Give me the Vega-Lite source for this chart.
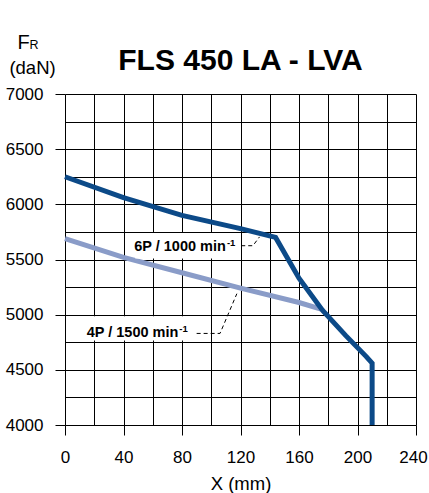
{
  "$schema": "https://vega.github.io/schema/vega-lite/v6.json",
  "width": 351,
  "height": 331,
  "autosize": {"type": "none"},
  "padding": {"left": 65, "top": 94, "right": 13, "bottom": 68},
  "background": "white",
  "config": {"view": {"stroke": null}, "font": "Liberation Sans"},
  "datasets": {
    "light": [
      {"x": 0, "y": 5690}, {"x": 40, "y": 5520}, {"x": 80, "y": 5380}, {"x": 120, "y": 5240}, {"x": 160, "y": 5110}, {"x": 175, "y": 5050}
    ],
    "dark": [
      {"x": 0, "y": 6250}, {"x": 40, "y": 6060}, {"x": 80, "y": 5900}, {"x": 120, "y": 5780}, {"x": 144, "y": 5700},
      {"x": 160, "y": 5330}, {"x": 176, "y": 5040}, {"x": 192, "y": 4810}, {"x": 206, "y": 4620}, {"x": 210, "y": 4560}, {"x": 210, "y": 4000}
    ],
    "boxes": [
      {"x": 48, "x2": 118, "y": 5510, "y2": 5740},
      {"x": 14, "x2": 87, "y": 4765, "y2": 4985}
    ],
    "leaders": [
      {"g": "6P", "x": 120.5, "y": 5625}, {"g": "6P", "x": 128.5, "y": 5625}, {"g": "6P", "x": 133, "y": 5705},
      {"g": "4P", "x": 90, "y": 4830}, {"g": "4P", "x": 106, "y": 4830}, {"g": "4P", "x": 117.5, "y": 5190}
    ],
    "labels": [
      {"label": "6P / 1000 min", "sup": "-1", "x": 110, "y": 5575},
      {"label": "4P / 1500 min", "sup": "-1", "x": 77.5, "y": 4800}
    ],
    "title": [
      {"t": "FLS 450 LA - LVA", "x": 120, "y": 7217}
    ],
    "ytitle": [
      {"t": "F", "x": -32.5, "y": 7410, "s": 20},
      {"t": "R", "x": -24.3, "y": 7410, "s": 12.5},
      {"t": "(daN)", "x": -38, "y": 7185, "s": 18.5}
    ]
  },
  "encoding": {
    "x": {
      "field": "x", "type": "quantitative",
      "scale": {"domain": [0, 240], "nice": false, "zero": false},
      "axis": {
        "values": [0, 20, 40, 60, 80, 100, 120, 140, 160, 180, 200, 220, 240],
        "grid": true, "gridColor": "#000", "gridWidth": 1, "gridOpacity": 1,
        "domain": false, "ticks": true, "tickSize": 10, "tickColor": "#000", "tickWidth": 1,
        "tickOpacity": {"condition": {"test": "datum.value % 40 === 0", "value": 1}, "value": 0},
        "labelExpr": "datum.value % 40 === 0 ? datum.label : ''",
        "labelOffset": {"condition": {"test": "datum.value === 240", "value": -3}, "value": 0},
        "labelFontSize": 17, "labelColor": "#000", "labelPadding": 14, "labelFont": "Liberation Sans",
        "labelOverlap": false, "labelFlush": false,
        "title": "X (mm)", "titleFontSize": 18.5, "titleFontWeight": "normal", "titleColor": "#000",
        "titleFont": "Liberation Sans", "titleBaseline": "alphabetic", "titleY": 64
      }
    },
    "y": {
      "field": "y", "type": "quantitative",
      "scale": {"domain": [4000, 7000], "nice": false, "zero": false},
      "axis": {
        "values": [4000, 4250, 4500, 4750, 5000, 5250, 5500, 5750, 6000, 6250, 6500, 6750, 7000],
        "grid": true, "gridColor": "#000", "gridWidth": 1, "gridOpacity": 1,
        "domain": false, "ticks": true, "tickSize": 10, "tickColor": "#000", "tickWidth": 1,
        "tickOpacity": {"condition": {"test": "datum.value % 500 === 0", "value": 1}, "value": 0},
        "labelExpr": "datum.value % 500 === 0 ? datum.label : ''",
        "labelFontSize": 17, "labelColor": "#000", "labelPadding": 12, "labelFont": "Liberation Sans",
        "labelOverlap": false, "labelFlush": false, "format": "d",
        "title": null
      }
    }
  },
  "layer": [
    {"data": {"name": "light"}, "mark": {"type": "line", "color": "#8A9CC8", "strokeWidth": 5}, "encoding": {"order": {"value": null}}},
    {"data": {"name": "dark"}, "mark": {"type": "line", "color": "#0C4A88", "strokeWidth": 5, "strokeJoin": "miter"}, "encoding": {"order": {"value": null}}},
    {"data": {"name": "boxes"}, "mark": {"type": "rect", "color": "white", "opacity": 1}, "encoding": {"x2": {"field": "x2"}, "y2": {"field": "y2"}}},
    {"data": {"name": "leaders"}, "mark": {"type": "line", "color": "#000", "strokeWidth": 1, "strokeDash": [4, 3]}, "encoding": {"detail": {"field": "g"}, "order": {"value": null}}},
    {"data": {"name": "labels"}, "mark": {"type": "text", "align": "right", "baseline": "alphabetic", "fontWeight": "bold", "fontSize": 14.5, "font": "Liberation Sans", "color": "#000"}, "encoding": {"text": {"field": "label"}}},
    {"data": {"name": "labels"}, "mark": {"type": "text", "align": "left", "baseline": "alphabetic", "fontWeight": "bold", "fontSize": 9.5, "dx": 1, "dy": -5, "font": "Liberation Sans", "color": "#000"}, "encoding": {"text": {"field": "sup"}}},
    {"data": {"name": "title"}, "mark": {"type": "text", "align": "center", "baseline": "alphabetic", "fontWeight": "bold", "fontSize": 30, "font": "Liberation Sans", "color": "#000"}, "encoding": {"text": {"field": "t"}}},
    {"data": {"name": "ytitle"}, "mark": {"type": "text", "align": "left", "baseline": "alphabetic", "font": "Liberation Sans", "color": "#000"}, "encoding": {"text": {"field": "t"}, "size": {"field": "s", "type": "quantitative", "scale": null}}}
  ]
}
